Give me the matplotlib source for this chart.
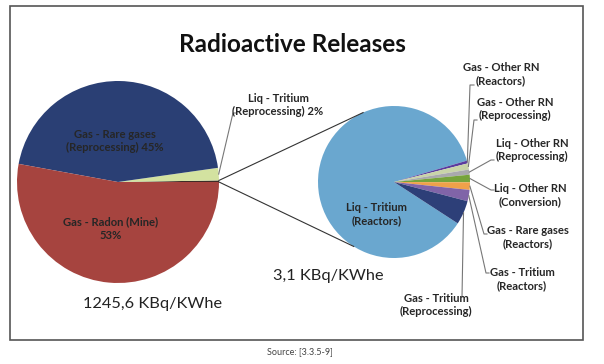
import matplotlib
matplotlib.use('Agg')
import matplotlib.pyplot as plt
import numpy as np
from matplotlib.patches import Rectangle

plt.rcParams['font.family'] = ['Lato', 'DejaVu Sans']

# data
left_labels = ['Other', 'Liq - Tritium\n(Reprocessing) 2%',
               'Gas - Rare gases\n(Reprocessing) 45%', 'Gas - Radon (Mine)\n53%']
left_values = [0.25, 2, 45, 53]
left_colors = ['#3d2b26', '#D3E2A0', '#2A3F74', '#A6443F']

right_labels = ['Liq - Tritium\n(Reactors)',
                'Gas - Other RN\n(Reactors)',
                'Gas - Other RN\n(Reprocessing)',
                'Liq - Other RN\n(Reprocessing)',
                'Liq - Other RN\n(Conversion)',
                'Gas - Rare gases\n(Reactors)',
                'Gas - Tritium\n(Reactors)',
                'Gas - Tritium\n(Reprocessing)']
right_values = [86.3, 0.6, 1.3, 1.1, 1.6, 1.6, 2.4, 5.1]
right_colors = ['#6AA7CF', '#5B3C9E', '#C8D4A8', '#A9A9AD',
                '#76A33B', '#EFA14A', '#8064A8', '#2D3F78']

left_total = '1245,6 KBq/KWhe'
right_total = '3,1 KBq/KWhe'

W, H = 604, 364


def Y(y):
    # picture rows -> axis y
    return H - y


fig = plt.figure(figsize=(W / 100, H / 100), dpi=100)
ax = fig.add_axes([0, 0, 1, 1])

lc, lr = (118, Y(182)), 101
rc, rr = (394, Y(182)), 76

lw_, _ = ax.pie(left_values, colors=left_colors, center=lc, radius=lr,
                startangle=0, counterclock=True, wedgeprops=dict(linewidth=0))
rw_, _ = ax.pie(right_values, colors=right_colors, center=rc, radius=rr,
                startangle=-33, counterclock=False, wedgeprops=dict(linewidth=0))

ax.set_xlim(0, W)
ax.set_ylim(0, H)
ax.set_aspect('equal')
ax.axis('off')


def edge(c, r, ang):
    a = np.radians(ang)
    return c[0] + r * np.cos(a), c[1] + r * np.sin(a)


# connector lines between the pies
oth = lw_[0]
p1 = edge(lc, lr, oth.theta2)
p2 = edge(lc, lr, oth.theta1)
q1 = edge(rc, rr, 114)
q2 = edge(rc, rr, 238)
ax.plot([p1[0], q1[0]], [p1[1], q1[1]], color='#333333', lw=0.8)
ax.plot([p2[0], q2[0]], [p2[1], q2[1]], color='#333333', lw=0.8)

txt = dict(fontsize=8.1, fontweight='bold', color='#262626', ha='center',
           va='center', linespacing=1.3)

# labels inside pies
ax.text(115, Y(141), left_labels[2], **txt)
ax.text(111, Y(229), left_labels[3], **txt)
ax.text(377, Y(214), right_labels[0], **txt)

lead = dict(color='#777777', lw=0.8)

# left outside label
m = (lw_[1].theta1 + lw_[1].theta2) / 2
s = edge(lc, lr, m)
ax.plot([s[0], 233, 236], [s[1], Y(113), Y(113)], **lead)
ax.text(278, Y(105), left_labels[1], **txt)

# right outside labels: text centre, leader anchor, tick length
spots = [((501, 74), (470, 85), 4),
         ((515, 109), (474, 120), 3),
         ((532, 150), (491, 160), 3),
         ((530, 195), (491, 190), 3),
         ((528, 237), (484, 234), 3),
         ((522, 279), (486, 273), 3),
         ((436, 305), (462, 297), 0)]
for i, ((tx, ty), (ax_, ay), tk) in enumerate(spots, start=1):
    w = rw_[i]
    m = (w.theta1 + w.theta2) / 2
    s = edge(rc, rr, m)
    ax.plot([s[0], ax_, ax_ + tk], [s[1], Y(ay), Y(ay)], **lead)
    ax.text(tx, Y(ty), right_labels[i], **txt)

# totals
ax.text(328, Y(276), right_total, fontsize=11.8, color='#222222',
        ha='center', va='center')
ax.text(153, Y(304), left_total, fontsize=11.8, color='#222222',
        ha='center', va='center')

ax.text(292, Y(45), 'Radioactive Releases', fontsize=17.5, fontweight='bold',
        color='#111111', ha='center', va='center')

ax.add_patch(Rectangle((10, Y(340)), 573, 334, fill=False,
                       edgecolor='#555555', lw=1.2))
ax.text(300, Y(352), 'Source: [3.3.5-9]', fontsize=6.5, color='#444444',
        ha='center', va='center')

fig.savefig('out.png', dpi=100)
